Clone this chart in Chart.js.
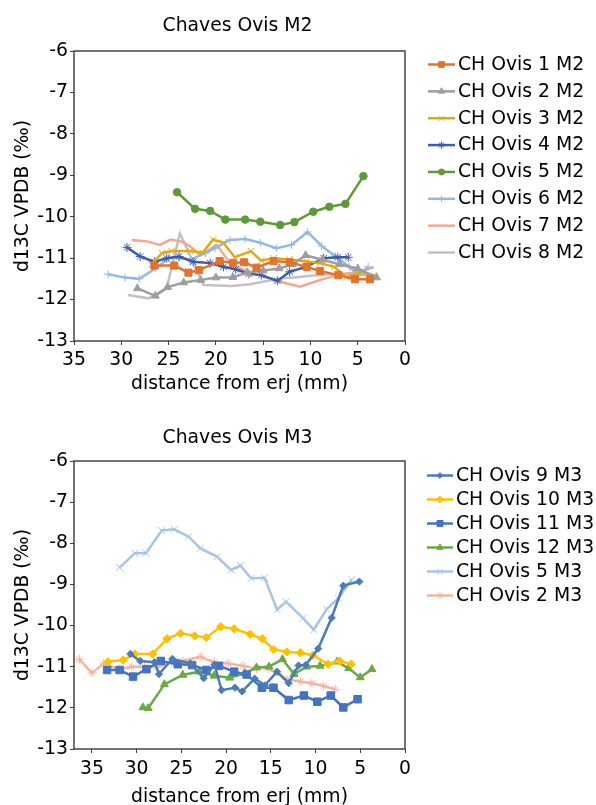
<!DOCTYPE html>
<html><head><meta charset="utf-8">
<script src="https://cdn.jsdelivr.net/npm/chart.js@4.4.1/dist/chart.umd.min.js"></script>
<style>
html,body{margin:0;padding:0;background:#fff;}
#w1{position:absolute;left:0;top:0;width:596px;height:400px;}
#w2{position:absolute;left:0;top:400px;width:596px;height:405px;}
canvas{display:block;}
</style></head><body>
<div id="w1"><canvas id="c1" width="596" height="400"></canvas></div>
<div id="w2"><canvas id="c2" width="596" height="405"></canvas></div>
<script>
// ---------- tick labels ----------
const xTickVals = [0, 5, 10, 15, 20, 25, 30, 35];
const yTickVals = [-13, -12, -11, -10, -9, -8, -7, -6];

// ---------- Chart 1: Chaves Ovis M2 ----------
const m2Labels = ['CH Ovis 1 M2','CH Ovis 2 M2','CH Ovis 3 M2','CH Ovis 4 M2','CH Ovis 5 M2','CH Ovis 6 M2','CH Ovis 7 M2','CH Ovis 8 M2'];
const ovis1M2_x = [26.5,24.4,22.9,21.8,19.6,18.2,17.0,15.7,13.9,12.2,10.4,9.0,7.05,5.3,3.7];
const ovis1M2_y = [-11.18,-11.18,-11.35,-11.29,-11.07,-11.12,-11.10,-11.23,-11.07,-11.10,-11.21,-11.31,-11.41,-11.51,-11.51];
const ovis2M2_x = [28.3,26.4,25.1,23.4,21.6,20.0,18.2,16.7,15.0,13.3,11.9,10.5,8.7,6.9,5.0,3.0];
const ovis2M2_y = [-11.73,-11.91,-11.70,-11.59,-11.53,-11.47,-11.46,-11.35,-11.30,-11.25,-11.15,-10.93,-11.04,-11.15,-11.25,-11.47];
const ovis3M2_x = [26.8,25.7,24.7,22.7,21.4,20.3,19.2,18.0,16.3,15.2,13.9,12.2,10.4,9.0,7.5,6.2,4.6,3.3];
const ovis3M2_y = [-11.15,-10.88,-10.83,-10.83,-10.87,-10.55,-10.63,-10.98,-10.83,-11.06,-11.00,-11.03,-11.08,-11.12,-11.21,-11.46,-11.33,-11.42];
const ovis4M2_x = [29.4,28.0,26.5,25.2,23.9,22.4,20.6,19.2,17.9,16.5,15.2,13.5,12.2,10.5,8.6,7.1,6.0];
const ovis4M2_y = [-10.74,-10.96,-11.09,-11.0,-10.96,-11.09,-11.12,-11.21,-11.27,-11.38,-11.41,-11.55,-11.33,-11.21,-11.0,-10.98,-10.98];
const ovis5M2_x = [24.1,22.2,20.6,19.0,16.9,15.3,13.2,11.7,9.7,8.0,6.3,4.4];
const ovis5M2_y = [-9.41,-9.81,-9.86,-10.07,-10.07,-10.12,-10.2,-10.13,-9.88,-9.76,-9.69,-9.02];
const ovis6M2_x = [31.4,29.6,28.1,26.4,25.0,23.8,22.7,21.1,20.1,18.5,16.9,15.3,13.6,12.0,10.3,8.8,7.4,5.9,4.9,3.9];
const ovis6M2_y = [-11.39,-11.47,-11.50,-11.25,-11.00,-10.98,-11.04,-10.88,-10.76,-10.56,-10.54,-10.63,-10.76,-10.68,-10.37,-10.71,-10.95,-11.21,-11.41,-11.21];
const ovis7M2_x = [28.9,27.4,25.9,24.8,23.6,22.7,21.6,19.9,18.5,16.7,15.3,13.2,11.1,9.0,7.2,5.5,4.9,3.3];
const ovis7M2_y = [-10.56,-10.59,-10.68,-10.55,-10.60,-10.72,-10.93,-10.68,-11.12,-11.33,-11.41,-11.57,-11.69,-11.53,-11.41,-11.35,-11.33,-11.22];
const ovis8M2_x = [29.3,27.1,25.2,23.8,21.3,18.3,16.4,14.6,13.2,11.5,9.7,7.6,5.8,4.4,2.8];
const ovis8M2_y = [-11.89,-11.97,-11.73,-10.40,-11.65,-11.67,-11.63,-11.55,-11.49,-11.46,-11.42,-11.39,-11.37,-11.41,-11.47];

// ---------- Chart 2: Chaves Ovis M3 ----------
const m3Labels = ['CH Ovis 9 M3','CH Ovis 10 M3','CH Ovis 11 M3','CH Ovis 12 M3','CH Ovis 5 M3','CH Ovis 2 M3'];
const ovis9M3_x = [30.7,29.6,28.0,27.5,26.0,24.0,22.5,21.3,20.5,19.0,18.2,16.8,15.65,14.3,13.0,11.9,11.1,9.7,8.2,6.9,5.1];
const ovis9M3_y = [-10.69,-10.86,-10.89,-11.18,-10.81,-10.92,-11.28,-10.95,-11.57,-11.51,-11.60,-11.29,-11.45,-11.12,-11.40,-10.97,-10.96,-10.56,-9.81,-9.03,-8.93];
const ovis10M3_x = [33.2,31.5,30.2,28.2,26.6,25.1,23.5,22.2,20.6,19.1,17.3,15.95,14.7,13.2,11.7,10.3,8.6,7.3,6.0];
const ovis10M3_y = [-10.88,-10.84,-10.69,-10.69,-10.32,-10.19,-10.25,-10.29,-10.03,-10.08,-10.21,-10.32,-10.58,-10.64,-10.66,-10.72,-10.94,-10.86,-10.94];
const ovis11M3_x = [33.3,31.9,30.4,28.9,27.3,25.4,23.8,22.2,20.8,19.1,17.7,16.0,14.7,13.0,11.3,9.8,8.3,6.9,5.3];
const ovis11M3_y = [-11.08,-11.08,-11.24,-11.06,-10.86,-10.94,-10.96,-11.08,-10.98,-11.12,-11.19,-11.51,-11.51,-11.81,-11.70,-11.85,-11.70,-11.99,-11.79];
const ovis12M3_x = [29.3,28.7,26.9,24.85,23.0,21.35,19.6,17.9,16.6,15.2,13.7,12.4,11.0,9.5,7.6,6.3,5.0,3.7];
const ovis12M3_y = [-11.99,-12.01,-11.43,-11.20,-11.12,-11.22,-11.27,-11.16,-11.02,-11.0,-10.82,-11.18,-11.0,-10.98,-10.88,-11.04,-11.26,-11.06];
const ovis5M3_x = [31.9,30.2,28.95,27.2,25.8,24.2,22.9,21.0,19.45,18.4,17.2,15.7,14.3,13.3,11.4,10.2,8.75,7.45,5.96];
const ovis5M3_y = [-8.59,-8.24,-8.24,-7.69,-7.66,-7.84,-8.12,-8.33,-8.65,-8.54,-8.85,-8.84,-9.61,-9.42,-9.82,-10.10,-9.60,-9.34,-8.88];
const ovis2M3_x = [36.4,35.0,33.7,31.9,30.55,29.1,27.7,26.1,24.8,22.9,21.3,19.75,18.1,16.6,15.3,13.2,11.7,10.4,9.1,7.8];
const ovis2M3_y = [-10.82,-11.15,-10.93,-11.06,-11.0,-11.0,-11.01,-10.89,-10.86,-10.76,-10.89,-10.92,-10.98,-11.04,-11.04,-11.31,-11.36,-11.40,-11.47,-11.55];

const FONT = "'DejaVu Sans', Verdana, sans-serif";
const FS = 18.8;
Chart.defaults.font.family = FONT;
Chart.defaults.font.size = FS;
Chart.defaults.color = '#000';

function pts(xs, ys) { return xs.map((x, i) => ({x: x, y: ys[i]})); }
function ds(label, xs, ys, color, style, r, bw) {
  return {
    label: label, data: pts(xs, ys), borderColor: color, backgroundColor: color,
    borderWidth: 2.5, tension: 0, pointStyle: style || 'circle', pointRadius: r || 0,
    pointHoverRadius: r || 0, pointBackgroundColor: color, pointBorderColor: color,
    pointBorderWidth: bw || 1
  };
}

const sideLegend = {
  id: 'sideLegend',
  afterDraw(chart, args, o) {
    const ctx = chart.ctx;
    ctx.save();
    chart.data.datasets.forEach((d, i) => {
      const y = o.top + i * o.step;
      ctx.strokeStyle = d.borderColor;
      ctx.lineWidth = d.borderWidth;
      ctx.beginPath(); ctx.moveTo(o.x0, y); ctx.lineTo(o.x1, y); ctx.stroke();
      if (d.pointRadius > 0 && Chart.helpers && Chart.helpers.drawPoint) {
        ctx.fillStyle = d.pointBackgroundColor;
        ctx.strokeStyle = d.pointBorderColor;
        ctx.lineWidth = d.pointBorderWidth;
        Chart.helpers.drawPoint(ctx, {pointStyle: d.pointStyle, radius: d.pointRadius * 0.8, borderWidth: d.pointBorderWidth, rotation: 0}, (o.x0 + o.x1) / 2, y);
      }
      ctx.fillStyle = '#000';
      ctx.font = FS + 'px ' + FONT;
      ctx.textAlign = 'left';
      ctx.textBaseline = 'middle';
      ctx.fillText(d.label, o.textX, y + 0.5);
    });
    ctx.restore();
  }
};
const plotTitle = {
  id: 'plotTitle',
  afterDraw(chart, args, o) {
    const a = chart.chartArea, ctx = chart.ctx;
    ctx.save();
    ctx.fillStyle = '#000';
    ctx.font = FS + 'px ' + FONT;
    ctx.textAlign = 'center';
    ctx.textBaseline = 'middle';
    ctx.fillText(o.text, (a.left + a.right) / 2 - 2, o.y);
    ctx.restore();
  }
};
const plotBox = {
  id: 'plotBox',
  afterDatasetsDraw(chart) {
    const a = chart.chartArea, ctx = chart.ctx;
    ctx.save();
    ctx.strokeStyle = '#383838';
    ctx.lineWidth = 1.4;
    ctx.strokeRect(a.left, a.top, a.right - a.left, a.bottom - a.top);
    ctx.restore();
  }
};

function makeOptions(c) {
  return {
    responsive: false, animation: false, devicePixelRatio: 1,
    layout: {padding: {left: 0, right: 596 - 405, top: c.padTop, bottom: 0}},
    plugins: {
      legend: {display: false}, tooltip: {enabled: false}, title: {display: false},
      plotTitle: {text: c.title, y: c.titleY},
      sideLegend: c.legend
    },
    scales: {
      x: {
        type: 'linear', reverse: true, min: 0, max: c.xMax,
        afterBuildTicks: s => { s.ticks = xTickVals.map(v => ({value: v})); },
        afterFit: s => { s.height = c.xH; },
        ticks: {color: '#000', font: {size: FS}, padding: c.xtPad, maxRotation: 0, autoSkip: false},
        grid: {drawOnChartArea: false, drawTicks: true, tickLength: 4, color: '#404040'},
        border: {display: false},
        title: {display: true, text: 'distance from erj (mm)', color: '#000', font: {size: FS}, padding: {top: 0, bottom: c.xTitlePad}}
      },
      y: {
        type: 'linear', min: -13, max: -6,
        afterBuildTicks: s => { s.ticks = yTickVals.map(v => ({value: v})); },
        afterFit: s => { s.width = 74; },
        ticks: {color: '#000', font: {size: FS}, padding: 2},
        grid: {drawOnChartArea: false, drawTicks: true, tickLength: 4, color: '#404040'},
        border: {display: false},
        title: {display: true, text: 'd13C VPDB (‰)', color: '#000', font: {size: FS}, padding: {top: 11.7, bottom: 0}}
      }
    }
  };
}

new Chart(document.getElementById('c1'), {
  type: 'line',
  data: {datasets: [
    ds(m2Labels[0], ovis1M2_x, ovis1M2_y, '#E2722F', 'rect', 5, 1),
    ds(m2Labels[1], ovis2M2_x, ovis2M2_y, '#9E9E9E', 'triangle', 4.5, 1),
    ds(m2Labels[2], ovis3M2_x, ovis3M2_y, '#E3A90C', 'crossRot', 4.5, 1),
    ds(m2Labels[3], ovis4M2_x, ovis4M2_y, '#3A5DAE', 'star', 4.5, 1),
    ds(m2Labels[4], ovis5M2_x, ovis5M2_y, '#5F9A3A', 'circle', 3.8, 1),
    ds(m2Labels[5], ovis6M2_x, ovis6M2_y, '#94B8E4', 'cross', 4, 1),
    ds(m2Labels[6], ovis7M2_x, ovis7M2_y, '#F4A68E', 'circle', 0, 1),
    ds(m2Labels[7], ovis8M2_x, ovis8M2_y, '#C2C2C2', 'circle', 0, 1)
  ]},
  options: makeOptions({title: 'Chaves Ovis M2', titleY: 26, padTop: 51, xMax: 35, xH: 59, xtPad: 4, xTitlePad: 4.7,
    legend: {top: 64.5, step: 26.86, x0: 428, x1: 455, textX: 458}}),
  plugins: [sideLegend, plotBox, plotTitle]
});

new Chart(document.getElementById('c2'), {
  type: 'line',
  data: {datasets: [
    ds(m3Labels[0], ovis9M3_x, ovis9M3_y, '#4A7DB8', 'rectRot', 3.6, 1),
    ds(m3Labels[1], ovis10M3_x, ovis10M3_y, '#FFC000', 'rectRot', 4.2, 1),
    ds(m3Labels[2], ovis11M3_x, ovis11M3_y, '#4472C4', 'rect', 5.3, 1),
    ds(m3Labels[3], ovis12M3_x, ovis12M3_y, '#6AAA45', 'triangle', 4.6, 1),
    ds(m3Labels[4], ovis5M3_x, ovis5M3_y, '#A8C4E6', 'crossRot', 5, 1),
    ds(m3Labels[5], ovis2M3_x, ovis2M3_y, '#F4B4A2', 'star', 4.5, 1)
  ]},
  options: makeOptions({title: 'Chaves Ovis M3', titleY: 38.5, padTop: 61, xMax: 37, xH: 56, xtPad: 4.9, xTitlePad: -3.3,
    legend: {top: 75.5, step: 24, x0: 427, x1: 453, textX: 456}}),
  plugins: [sideLegend, plotBox, plotTitle]
});
</script>
</body></html>
